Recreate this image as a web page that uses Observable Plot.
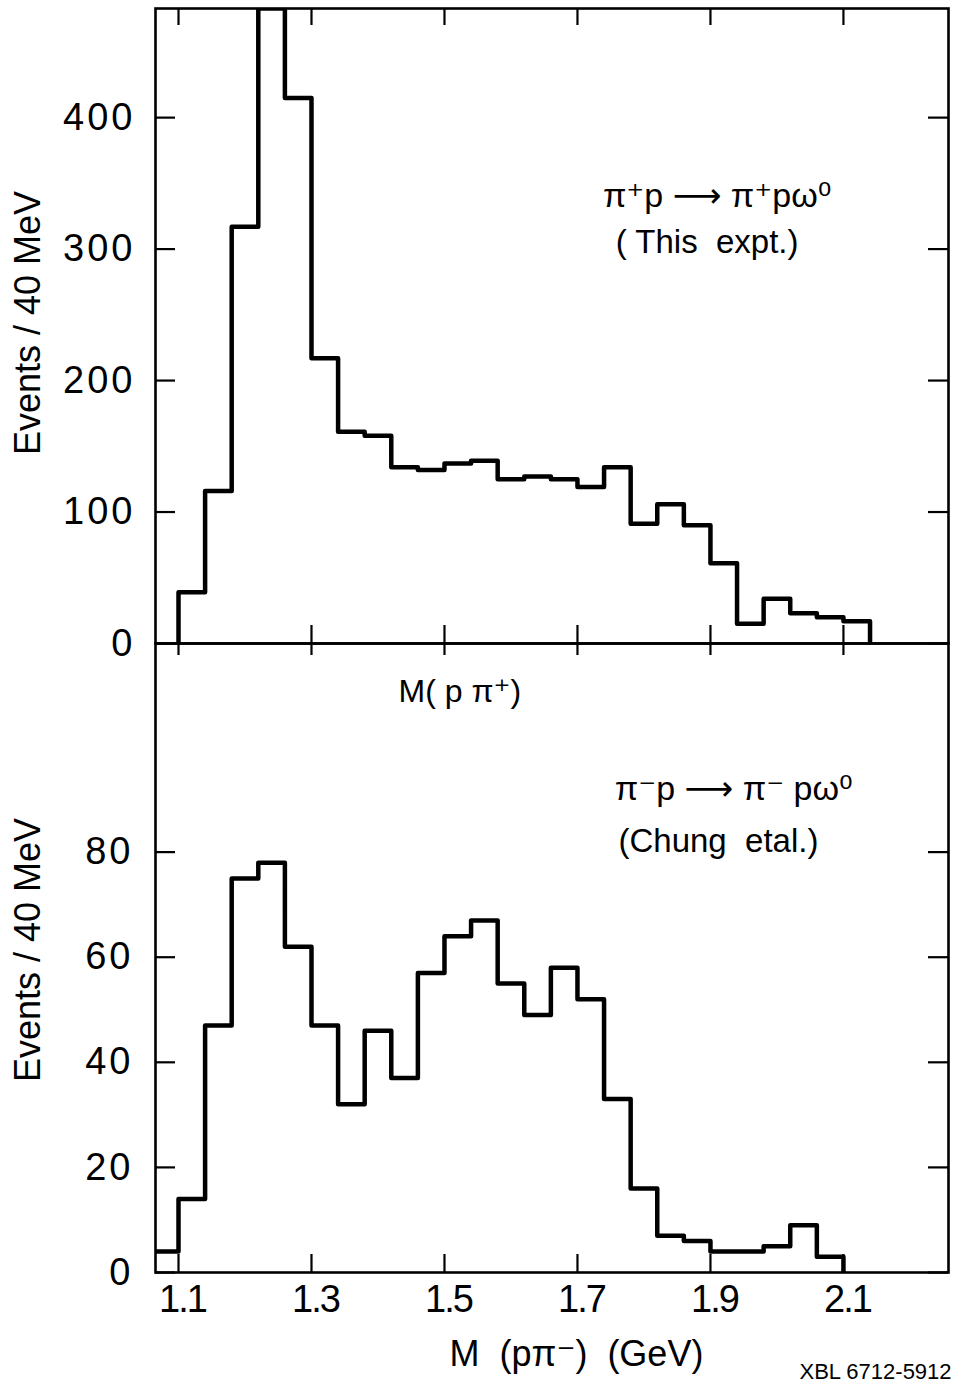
<!DOCTYPE html>
<html>
<head>
<meta charset="utf-8">
<script src="https://cdn.jsdelivr.net/npm/d3@7"></script>
<script src="https://cdn.jsdelivr.net/npm/@observablehq/plot@0.6"></script>
<style>
  body { margin: 0; background: #fff; }
  #fig { position: relative; width: 960px; height: 1392px; overflow: hidden; background: #fff; }
  #fig > svg { position: absolute; left: 0; background: transparent; }
  g[aria-label="y-axis tick label"] text { letter-spacing: 3px; }
  g[aria-label="x-axis tick label"] text { letter-spacing: -2px; }
  g[aria-label="axis title"] text { letter-spacing: 1.5px; }
  g[aria-label="reaction"] text { letter-spacing: 3px; }
  g[aria-label="source"] text { letter-spacing: 3.5px; }
  g[aria-label="mass label"] text { letter-spacing: 4px; }
  g[aria-label="unit label"] text { letter-spacing: 5.5px; }
  g[aria-label="plate"] text { letter-spacing: 2px; }
</style>
</head>
<body>
<div id="fig"></div>
<script>
// Invariant-mass tick positions (GeV), shared by both panels
const massTicks = [1.1, 1.3, 1.5, 1.7, 1.9, 2.1];

// π+ p → π+ p ω0 (this experiment): 40 MeV bin edges and counts
const plusEdges = [1.10, 1.14, 1.18, 1.22, 1.26, 1.30, 1.34, 1.38, 1.42, 1.46, 1.50, 1.54, 1.58,
                   1.62, 1.66, 1.70, 1.74, 1.78, 1.82, 1.86, 1.90, 1.94, 1.98, 2.02, 2.06, 2.10, 2.14];
const plusCounts = [39, 116, 317, 483, 415, 217, 161, 158, 134, 132, 137, 139, 125,
                    127, 125, 119, 134, 91, 106, 90, 61, 15, 34, 23, 20, 17];
const plusTicks = [0, 100, 200, 300, 400];

// π− p → π− p ω0 (Chung et al.): 40 MeV bin edges and counts
const minusEdges = [1.06, 1.10, 1.14, 1.18, 1.22, 1.26, 1.30, 1.34, 1.38, 1.42, 1.46, 1.50, 1.54,
                    1.58, 1.62, 1.66, 1.70, 1.74, 1.78, 1.82, 1.86, 1.90, 1.94, 1.98, 2.02, 2.06, 2.10];
const minusCounts = [4, 14, 47, 75, 78, 62, 47, 32, 46, 37, 57, 64, 67,
                     55, 49, 58, 52, 33, 16, 7, 6, 4, 4, 5, 9, 3];
const minusTicks = [0, 20, 40, 60, 80];

const FONT = '"Liberation Sans", "DejaVu Sans", sans-serif';
const W = 960, ML = 155, MR = 12;
const innerW = W - ML - MR;
const massDomain = [1.0654, 2.258];

// Step outline of a histogram: up from zero at the first edge, across each bin, back down at the last edge
function outline(edges, counts) {
  const pts = [{m: edges[0], n: 0}];
  counts.forEach((c, i) => pts.push({m: edges[i], n: c}));
  pts.push({m: edges[edges.length - 1], n: 0});
  return pts;
}

// Inward-pointing ticks on all four sides of a panel
function frameTicks(yTicks, innerH, lenY, lenTop, lenBottom) {
  const marks = [
    Plot.tickY(yTicks, {y: d => d, insetRight: innerW - lenY, strokeWidth: 2.2}),
    Plot.tickY(yTicks, {y: d => d, insetLeft: innerW - lenY, strokeWidth: 2.2})
  ];
  if (lenTop) marks.push(Plot.tickX(massTicks, {x: d => d, insetBottom: innerH - lenTop, strokeWidth: 2.2}));
  if (lenBottom) marks.push(Plot.tickX(massTicks, {x: d => d, insetTop: innerH - lenBottom, strokeWidth: 2.2}));
  return marks;
}

// Upper panel (its SVG runs a little past the shared divider so the "0" label has room)
const topH = 690, topMT = 8, topMB = 47;
const upper = Plot.plot({
  width: W, height: topH,
  marginLeft: ML, marginRight: MR, marginTop: topMT, marginBottom: topMB,
  x: {domain: massDomain, axis: null},
  y: {domain: [0, 483]},
  style: {fontFamily: FONT, background: "transparent", color: "#000"},
  marks: [
    Plot.frame({strokeWidth: 2.6}),
    ...frameTicks(plusTicks, topH - topMT - topMB, 20, 17, 18),
    Plot.line(outline(plusEdges, plusCounts), {
      x: "m", y: "n", curve: "step-after", stroke: "#000", strokeWidth: 4.5,
      strokeLinejoin: "round", clip: true
    }),
    Plot.axisY(plusTicks, {anchor: "left", tickSize: 0, tickPadding: 20, fontSize: 38, label: null}),
    Plot.text(["Events / 40 MeV"], {frameAnchor: "left", textAnchor: "middle", dx: -127, dy: -3,
                                    rotate: -90, fontSize: 36, ariaLabel: "axis title"}),
    Plot.text(["π⁺p ⟶ π⁺pω⁰"], {x: 1.91, y: 340, fontSize: 34, ariaLabel: "reaction"}),
    Plot.text(["( This  expt.)"], {x: 1.895, y: 305, fontSize: 33, ariaLabel: "source"})
  ]
});

// Lower panel
const lowTop = 620, lowH = 772, lowMT = 23, lowMB = 120;
const lower = Plot.plot({
  width: W, height: lowH,
  marginLeft: ML, marginRight: MR, marginTop: lowMT, marginBottom: lowMB,
  x: {domain: massDomain},
  y: {domain: [0, 119.7]},
  style: {fontFamily: FONT, background: "transparent", color: "#000"},
  marks: [
    Plot.frame({strokeWidth: 2.6}),
    ...frameTicks(minusTicks, lowH - lowMT - lowMB, 20, 12, 18),
    Plot.line(outline(minusEdges, minusCounts), {
      x: "m", y: "n", curve: "step-after", stroke: "#000", strokeWidth: 4.5,
      strokeLinejoin: "round", clip: true
    }),
    Plot.axisY(minusTicks, {anchor: "left", tickSize: 0, tickPadding: 22, fontSize: 38, label: null}),
    Plot.axisX(massTicks, {anchor: "bottom", tickSize: 0, tickPadding: 13, fontSize: 38, dx: 4,
                           tickFormat: d3.format(".1f"), label: null}),
    Plot.text(["Events / 40 MeV"], {frameAnchor: "left", textAnchor: "middle", dx: -127, dy: -8,
                                    rotate: -90, fontSize: 36, ariaLabel: "axis title"}),
    Plot.text(["M( p π⁺)"], {x: 1.523, y: 110.5, fontSize: 32, ariaLabel: "mass label"}),
    Plot.text(["π⁻p ⟶ π⁻ pω⁰"], {x: 1.935, y: 92, fontSize: 34, ariaLabel: "reaction"}),
    Plot.text(["(Chung  etal.)"], {x: 1.912, y: 82, fontSize: 33, ariaLabel: "source"}),
    Plot.text(["M  (pπ⁻)  (GeV)"], {x: 1.6985, frameAnchor: "bottom", dy: 93, fontSize: 36, ariaLabel: "unit label"}),
    Plot.text(["XBL 6712-5912"], {x: 1.5, frameAnchor: "bottom", dx: 355, dy: 106, textAnchor: "start",
                                  fontSize: 22, ariaLabel: "plate"})
  ]
});

// The lower panel sits just under the upper one; the upper SVG is kept in front
const fig = document.getElementById("fig");
upper.style.top = "0px";
lower.style.top = lowTop + "px";
fig.append(lower, upper);
</script>
</body>
</html>
